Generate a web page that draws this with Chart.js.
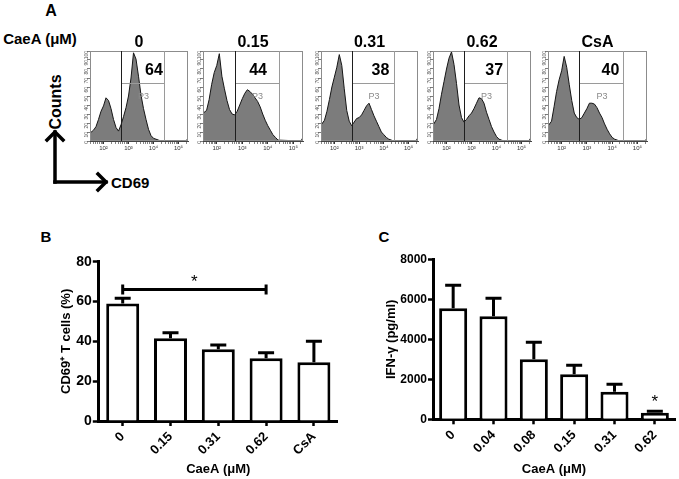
<!DOCTYPE html>
<html><head><meta charset="utf-8">
<script src="https://cdn.jsdelivr.net/npm/chart.js@4/dist/chart.umd.min.js"></script>
<style>
body{margin:0;background:#fff;}
#wrap{position:relative;width:679px;height:479px;overflow:hidden;background:#fff;font-family:"Liberation Sans",Arial,sans-serif;}
.t{position:absolute;font-weight:bold;color:#000;white-space:nowrap;line-height:1;transform:translate(-50%,-50%);}
canvas{position:absolute;}
svg{position:absolute;left:0;top:0;}
</style></head><body>
<div id="wrap">
<svg width="679" height="479"><g stroke="#000" stroke-width="3.5" fill="none" stroke-linecap="square">
<path d="M55 182 L55 132"/><path d="M47 140 L55 132 L63 140"/>
<path d="M55 182 L106 182"/><path d="M98 174 L106 182 L98 190"/></g></svg>
</div>
<script>
// ---------------- DATA ----------------
const histTitles = ['0', '0.15', '0.31', '0.62', 'CsA'];
const histGatePct = [64, 44, 38, 37, 40];
const histTickLabels = ['10\u00B2', '10\u00B3', '10\u2074', '10\u2075'];
// log10(CD69 fluorescence) bins
const histBins = [1.47,1.6,1.7,1.8,1.9,2.0,2.1,2.2,2.3,2.4,2.5,2.6,2.7,2.8,2.9,3.0,3.1,3.2,3.3,3.4,3.5,3.6,3.7,3.8,3.9,4.0,4.1,4.2,4.3,4.4,5.3,5.38];
const hist0   = [9,12,16,24,33,39,48,45,36,24,15,11,18,27,37,50,70,98,91,72,51,36,24,13,6,3,2,1,0,0,0,3];
const hist015 = [31,34,46,63,76,84,97,72,58,45,35,30,29,33,40,47,53,57,55,52,48,44,38,30,23,17,12,7,4,1,0,4];
const hist031 = [18,23,33,46,60,71,82,96,84,58,34,22,17,21,25,26,29,34,39,42,35,28,22,16,10,7,4,2,1,0,0,4];
const hist062 = [18,24,36,52,66,80,92,99,85,64,40,26,21,24,28,31,36,42,48,47,42,32,24,16,10,5,2,1,0,0,0,4];
const histCsA = [17,22,38,55,68,78,94,82,63,45,31,26,24,26,31,36,42,42,41,37,31,26,19,13,8,4,2,1,0,0,0,3];
const gateLow = 2.70, gateHigh = 4.43;   // P3 gate limits (log10)

const catsB = ['0', '0.15', '0.31', '0.62', 'CsA'];
const meansB = [59, 41.5, 36, 31.5, 29.5];
const errsB = [2.6, 2.8, 2.2, 2.8, 10.6];
const yTicksB = [0, 20, 40, 60, 80];

const catsC = ['0', '0.04', '0.08', '0.15', '0.31', '0.62'];
const meansC = [5550, 5150, 3000, 2250, 1380, 330];
const errsC = [1150, 900, 850, 450, 370, 70];
const yTicksC = [0, 2000, 4000, 6000, 8000];

// ---------------- LAYOUT ----------------
const FONT = '"Liberation Sans", Arial, sans-serif';
Chart.defaults.font.family = FONT;
Chart.defaults.color = '#000';
const wrap = document.getElementById('wrap');

function addText(txt, cx, cy, size, extra) {
  const d = document.createElement('div');
  d.className = 't'; d.textContent = txt;
  d.style.left = cx + 'px'; d.style.top = cy + 'px'; d.style.fontSize = size + 'px';
  if (extra) d.style.transform = 'translate(-50%,-50%) ' + extra;
  wrap.appendChild(d);
}
function addCanvas(l, t, w, h) {
  const c = document.createElement('canvas');
  c.width = w; c.height = h;
  c.style.left = l + 'px'; c.style.top = t + 'px'; c.style.width = w + 'px'; c.style.height = h + 'px';
  wrap.appendChild(c);
  return c;
}

addText('A', 51, 11, 16);
addText('CaeA (\u03BCM)', 40, 38, 15);
addText('Counts', 56, 102, 16, 'rotate(-90deg)');
const cd = document.createElement('div'); cd.className = 't'; cd.textContent = 'CD69';
cd.style.cssText = 'left:111px;top:182px;font-size:15px;transform:translate(0,-50%)'; wrap.appendChild(cd);
addText('B', 46, 236, 15);
addText('C', 384, 236, 15);

// ---------------- HISTOGRAMS (panel A) ----------------
const histSeries = [hist0, hist015, hist031, hist062, histCsA];
const histBoxes = [{l:90,r:188},{l:203,r:303},{l:321,r:418},{l:433,r:531},{l:548,r:647}];
const histTop = 51, histBottom = 141;
const numX = [4.02, 3.62, 3.86, 3.91, 3.93];

const histGatePlugin = {
  id: 'histGate',
  afterDatasetsDraw(chart, args, o) {
    const {ctx, chartArea: a, scales: {x, y}} = chart;
    ctx.save();
    ctx.lineWidth = 1;
    ctx.strokeStyle = '#8c8c8c';
    ctx.strokeRect(a.left + 0.5, a.top + 0.5, a.right - a.left - 1, a.bottom - a.top - 1);
    const g1 = Math.round(x.getPixelForValue(gateLow)) + 0.5;
    const g2 = Math.round(x.getPixelForValue(gateHigh)) + 0.5;
    const gy = Math.round(y.getPixelForValue(64)) + 0.5;
    ctx.strokeStyle = '#9a9a9a';
    ctx.beginPath(); ctx.moveTo(g1, gy); ctx.lineTo(g2, gy);
    ctx.moveTo(g2, a.top); ctx.lineTo(g2, a.bottom); ctx.stroke();
    ctx.strokeStyle = '#1e1e1e';
    ctx.beginPath(); ctx.moveTo(g1, a.top); ctx.lineTo(g1, a.bottom); ctx.stroke();
    ctx.textAlign = 'center'; ctx.textBaseline = 'middle';
    ctx.fillStyle = '#8a8a8a'; ctx.font = '9px ' + FONT;
    ctx.fillText('P3', x.getPixelForValue(3.6), y.getPixelForValue(49));
    ctx.fillStyle = '#000'; ctx.font = 'bold 16px ' + FONT;
    ctx.fillText(String(o.pct), x.getPixelForValue(o.numX), y.getPixelForValue(78));
    ctx.restore();
  }
};

histSeries.forEach((vals, i) => {
  const b = histBoxes[i];
  const padT = 6, yW = 12, xH = 14, padR = 3;
  const cv = addCanvas(b.l - yW, histTop - padT, b.r - b.l + yW + padR, histBottom - histTop + padT + xH);
  addText(histTitles[i], (b.l + b.r) / 2, 42, 16);
  new Chart(cv, {
    type: 'line',
    data: { datasets: [{
      data: histBins.map((x, k) => ({x: x, y: vals[k]})),
      fill: 'origin', backgroundColor: '#7c7c7c', borderColor: '#151515', borderWidth: 1,
      pointRadius: 0, tension: 0
    }]},
    options: {
      responsive: false, animation: false, events: [], devicePixelRatio: 1,
      layout: { padding: { top: padT, right: padR, left: 0, bottom: 0 } },
      plugins: { legend: {display: false}, tooltip: {enabled: false}, histGate: {pct: histGatePct[i], numX: numX[i]} },
      scales: {
        x: {
          type: 'linear', min: 1.46, max: 5.38,
          afterFit(s) { s.height = xH; },
          afterBuildTicks(s) {
            const t = [];
            for (let n = 1; n <= 5; n++) for (let k = 1; k <= 9; k++) {
              const v = n + Math.log10(k);
              if (v >= s.min && v <= s.max) t.push({value: v, major: k === 1});
            }
            s.ticks = t;
          },
          ticks: {
            autoSkip: false, maxRotation: 0, minRotation: 0, padding: 1,
            font: {size: 6}, color: '#333',
            callback: (v, idx, ticks) => ticks[idx].major ? histTickLabels[Math.round(v) - 2] : ''
          },
          grid: { drawOnChartArea: false, tickLength: 3, tickColor: '#333',
                  tickWidth: (c) => (c.tick && c.tick.major) ? 1 : 0.6 },
          border: { color: '#444', width: 1 }
        },
        y: {
          min: 0, max: 100,
          afterFit(s) { s.width = yW; },
          ticks: { stepSize: 10, font: {size: 5}, color: '#555', minRotation: 90, maxRotation: 90, padding: 0, autoSkip: false },
          grid: { drawOnChartArea: false, tickLength: 3, tickColor: '#444', tickWidth: 0.7 },
          border: { color: '#444', width: 1 }
        }
      }
    },
    plugins: [histGatePlugin]
  });
});

// ---------------- BAR CHARTS (panels B, C) ----------------
const errPlugin = {
  id: 'errBars',
  afterDatasetsDraw(chart, args, o) {
    const {ctx, scales: {x, y}} = chart;
    const meta = chart.getDatasetMeta(0);
    ctx.save();
    ctx.strokeStyle = '#000'; ctx.fillStyle = '#000'; ctx.lineWidth = 3; ctx.lineCap = 'butt';
    o.means.forEach((m, i) => {
      const px = meta.data[i].x;
      const y0 = y.getPixelForValue(m), y1 = y.getPixelForValue(m + o.errs[i]);
      ctx.beginPath(); ctx.moveTo(px, y0); ctx.lineTo(px, y1);
      ctx.moveTo(px - 8, y1); ctx.lineTo(px + 8, y1); ctx.stroke();
    });
    if (o.bracket) {
      const x1 = x.getPixelForValue(o.bracket.from), x2 = x.getPixelForValue(o.bracket.to);
      const by = y.getPixelForValue(o.bracket.value);
      ctx.beginPath(); ctx.moveTo(x1, by); ctx.lineTo(x2, by);
      ctx.moveTo(x1, by - 5); ctx.lineTo(x1, by + 5);
      ctx.moveTo(x2, by - 5); ctx.lineTo(x2, by + 5); ctx.stroke();
    }
    ctx.font = '17px ' + FONT; ctx.textAlign = 'center'; ctx.textBaseline = 'alphabetic';
    (o.stars || []).forEach(s => {
      const sx = s.from !== undefined ? (x.getPixelForValue(s.from) + x.getPixelForValue(s.to)) / 2 : x.getPixelForValue(s.index);
      ctx.fillText('*', sx, y.getPixelForValue(s.value));
    });
    ctx.restore();
  }
};

function makeBar(cfg) {
  const cv = addCanvas(cfg.left, cfg.top, cfg.width, cfg.height);
  new Chart(cv, {
    type: 'bar',
    data: { labels: cfg.cats, datasets: [{
      data: cfg.means, backgroundColor: '#fff', borderColor: '#000', borderWidth: 3,
      borderSkipped: 'bottom', barPercentage: cfg.barPct, categoryPercentage: 1
    }]},
    options: {
      responsive: false, animation: false, events: [], devicePixelRatio: 1,
      layout: { padding: { left: 0, top: cfg.padT, right: cfg.padR, bottom: 0 } },
      plugins: { legend: {display: false}, tooltip: {enabled: false},
                 errBars: { means: cfg.means, errs: cfg.errs, bracket: cfg.bracket, stars: cfg.stars } },
      scales: {
        x: {
          afterFit(s) { s.height = cfg.xH; },
          ticks: { font: {size: 13, weight: 'bold'}, color: '#000', minRotation: 45, maxRotation: 45, padding: 3, autoSkip: false },
          grid: { drawOnChartArea: false, offset: false, tickLength: 5, tickWidth: 2.5, tickColor: '#000' },
          border: { width: 3, color: '#000' },
          title: { display: true, text: 'CaeA (\u03BCM)', font: {size: 13, weight: 'bold'}, color: '#000', padding: {top: 0, bottom: 1.9} }
        },
        y: {
          min: 0, max: cfg.yTicks[cfg.yTicks.length - 1],
          afterFit(s) { s.width = cfg.yW; },
          afterBuildTicks(s) { s.ticks = cfg.yTicks.map(v => ({value: v})); },
          ticks: { font: {size: cfg.yFont, weight: 'bold'}, color: '#000', padding: 1, callback: (v) => String(v) },
          grid: { drawOnChartArea: false, tickLength: cfg.yTick, tickWidth: 2.5, tickColor: '#000' },
          border: { width: 3, color: '#000' },
          title: { display: true, text: cfg.yTitle, font: {size: 13, weight: 'bold'}, color: '#000', padding: {top: cfg.yTitlePad, bottom: 0} }
        }
      }
    },
    plugins: [errPlugin]
  });
}

makeBar({
  left: 30, top: 240, width: 320, height: 239,
  padT: 21.7, padR: 12.2, yW: 68.8, xH: 58, yTitlePad: 28.9, yFont: 14, yTick: 6,
  cats: catsB, means: meansB, errs: errsB, yTicks: yTicksB, barPct: 0.69,
  yTitle: 'CD69\u207A T cells (%)',
  bracket: {from: 0, to: 3, value: 66},
  stars: [{from: 0, to: 3, value: 67.5}]
});

makeBar({
  left: 370, top: 240, width: 309, height: 239,
  padT: 19.3, padR: 4, yW: 63, xH: 59.7, yTitlePad: 13.5, yFont: 12, yTick: 5,
  cats: catsC, means: meansC, errs: errsC, yTicks: yTicksC, barPct: 0.695,
  yTitle: 'IFN-\u03B3 (pg/ml)',
  stars: [{index: 5, value: 600}]
});
</script>
</body></html>
